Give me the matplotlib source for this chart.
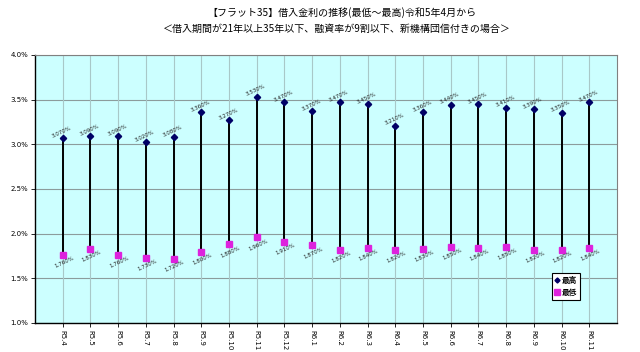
import numpy as np
import matplotlib
matplotlib.use('Agg')
import matplotlib.pyplot as plt

plt.rcParams['font.family'] = ['Noto Sans CJK JP', 'DejaVu Sans']

# data
months = ['R5.4', 'R5.5', 'R5.6', 'R5.7', 'R5.8', 'R5.9', 'R5.10', 'R5.11', 'R5.12',
          'R6.1', 'R6.2', 'R6.3', 'R6.4', 'R6.5', 'R6.6', 'R6.7', 'R6.8', 'R6.9',
          'R6.10', 'R6.11']
rate_high = [3.07, 3.09, 3.09, 3.02, 3.08, 3.36, 3.27, 3.53, 3.47,
             3.37, 3.47, 3.45, 3.21, 3.36, 3.44, 3.45, 3.41, 3.39, 3.35, 3.47]
rate_low = [1.76, 1.83, 1.76, 1.73, 1.72, 1.80, 1.88, 1.96, 1.91,
            1.87, 1.82, 1.84, 1.82, 1.83, 1.85, 1.84, 1.85, 1.82, 1.82, 1.84]
yticks = [1.0, 1.5, 2.0, 2.5, 3.0, 3.5, 4.0]

title1 = '【フラット35】借入金利の推移(最低～最高)令和5年4月から'
title2 = '＜借入期間が21年以上35年以下、融資率が9割以下、新機構団信付きの場合＞'

fig = plt.figure(figsize=(6.4, 3.52), dpi=100, facecolor='w')
ax = fig.add_axes([0.0547, 0.0824, 0.9093, 0.7616])
ax.set_facecolor('#ccffff')

x = np.arange(len(months))

# grid
for yv in yticks:
    ax.axhline(yv, color='#8c9c9c', lw=0.8, zorder=0)
for xv in x:
    ax.axvline(xv, color='#a8c8c8', lw=0.8, zorder=0)

# high-low lines
ax.vlines(x, rate_low, rate_high, color='black', lw=1.4, zorder=2)
ax.plot(x, rate_high, linestyle='none', marker='D', ms=3.2, color='#000066', label='最高', zorder=3)
ax.plot(x, rate_low, linestyle='none', marker='s', ms=5, color='#dd22dd', label='最低', zorder=3)

for xi, h, l in zip(x, rate_high, rate_low):
    ax.text(xi, h + 0.045, '%.3f%%' % h, fontsize=4, rotation=25, ha='center', va='bottom',
            color='#222222', family='DejaVu Sans', rotation_mode='anchor')
    ax.text(xi, l - 0.06, '%.3f%%' % l, fontsize=4, rotation=25, ha='center', va='top',
            color='#222222', family='DejaVu Sans', rotation_mode='anchor')

ax.set_xlim(-1, len(months))
ax.set_ylim(1.0, 4.0)
ax.set_yticks(yticks)
ax.set_yticklabels(['%.1f%%' % v for v in yticks], fontsize=5, family='DejaVu Sans')
ax.set_xticks(x)
ax.set_xticklabels(months, rotation=270, fontsize=5, family='DejaVu Sans')
ax.tick_params(axis='both', length=3, width=0.6, pad=2)

for side in ['top', 'right']:
    ax.spines[side].set_color('#808080')
    ax.spines[side].set_linewidth(0.8)
for side in ['left', 'bottom']:
    ax.spines[side].set_color('black')
    ax.spines[side].set_linewidth(1.0)

leg = ax.legend(loc='lower right', bbox_to_anchor=(0.943, 0.071),
                prop={'size': 5.5, 'weight': 'bold'},
                frameon=True, fancybox=False, edgecolor='black', framealpha=1,
                handlelength=0.6, handletextpad=0.3, borderpad=0.4, labelspacing=0.4,
                markerscale=0.8)
leg.get_frame().set_linewidth(0.8)

fig.text(0.535, 0.963, title1, ha='center', va='center', fontsize=7.2)
fig.text(0.527, 0.917, title2, ha='center', va='center', fontsize=7.2)

fig.savefig('out.png', dpi=100, facecolor='w')
